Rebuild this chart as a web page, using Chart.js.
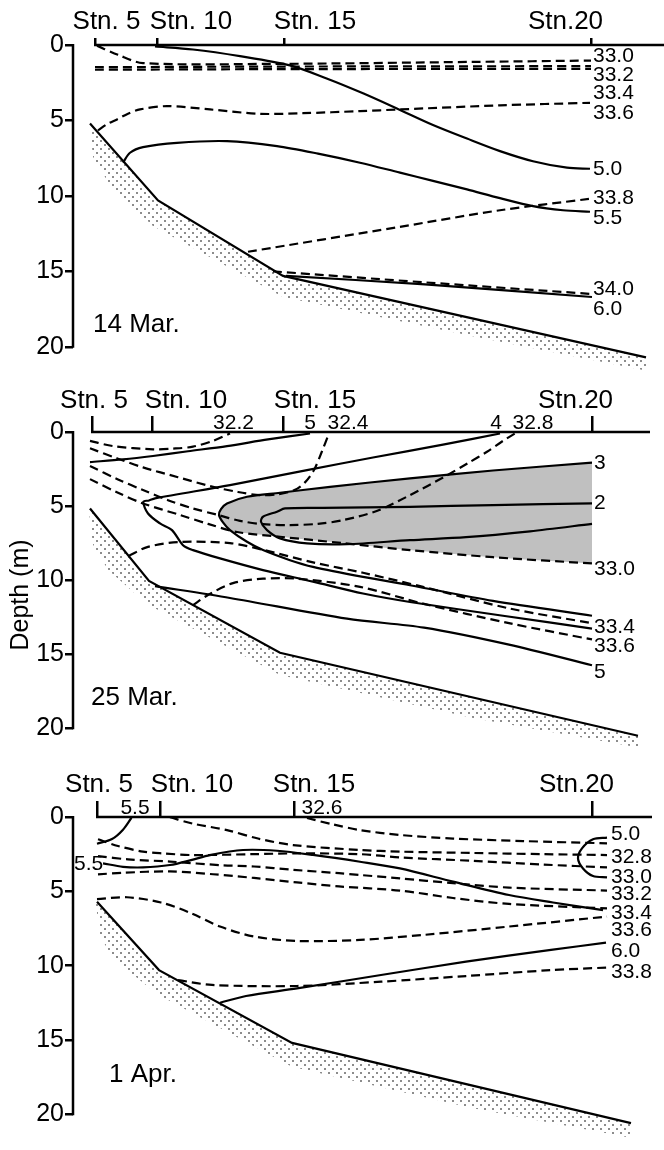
<!DOCTYPE html>
<html>
<head>
<meta charset="utf-8">
<script src="https://cdn.jsdelivr.net/npm/chart.js@4.4.1/dist/chart.umd.min.js"></script>
<style>
html, body { margin: 0; padding: 0; background: #fff; }
#wrap { position: relative; width: 664px; height: 1150px; }
canvas { position: absolute; left: 0; }
</style>
</head>
<body>
<div id="wrap">
  <canvas id="p1" width="664" height="377" style="top:0px"></canvas>
  <canvas id="p2" width="664" height="378" style="top:380px"></canvas>
  <canvas id="p3" width="664" height="384" style="top:760px"></canvas>
</div>
<script>
// x = distance along section (arbitrary units), y = depth (m)
const depthTicks = [0, 5, 10, 15, 20];
const stationNames = ['Stn. 5', 'Stn. 10', 'Stn. 15', 'Stn.20'];

// ---- 14 Mar.
const mar14Stations = [2.2, 8.4, 21.1, 51.8];
const mar14Bottom = [[1.7, 5.2], [8.5, 10.3], [21.0, 15.3], [57.3, 20.7]];
const mar14Stipple = [[1.7, 5.5], [2.0, 7.4], [3.7, 9.3], [8.0, 12.0], [21.0, 16.7], [40, 19.3], [57.5, 21.6]];
const mar14T50 = [[8.2, 0.1], [12, 0.3], [16.7, 0.74], [21.7, 1.35], [25.3, 2.2], [29, 3.2], [32.7, 4.3], [36, 5.3], [39.4, 6.2], [42.7, 7.03], [46, 7.7], [49.4, 8.13], [51.7, 8.2]];
const mar14T55 = [[5.0, 7.8], [5.7, 7.14], [7.0, 6.77], [10.4, 6.48], [15.4, 6.37], [20.4, 6.7], [24.5, 7.2], [28.7, 7.8], [32.7, 8.46], [36, 9.0], [39.4, 9.57], [42.7, 10.15], [46, 10.68], [49, 10.95], [51.7, 11.05]];
const mar14T60 = [[21.3, 15.3], [35.2, 15.86], [51.9, 16.7]];
const mar14S330 = [[2.4, 0.05], [4.5, 0.65], [7.0, 1.2], [20, 1.25], [40, 1.12], [51.8, 1.03]];
const mar14S332 = [[2.2, 1.47], [20, 1.43], [51.8, 1.4]];
const mar14S334 = [[2.2, 1.64], [20, 1.6], [51.8, 1.58]];
const mar14S336 = [[2.5, 5.66], [3.4, 5.25], [4.4, 4.93], [5.5, 4.55], [6.7, 4.27], [9.4, 4.05], [13.7, 4.27], [18.7, 4.56], [23, 4.52], [28.7, 4.38], [32.7, 4.27], [42.7, 4.0], [51.7, 3.83]];
const mar14S338 = [[17.5, 13.7], [32.7, 12.05], [42.7, 10.95], [51.7, 10.19]];
const mar14S340 = [[20.0, 15.0], [35.2, 15.73], [51.9, 16.5]];
const mar14Labels = ['33.0', '33.2', '33.4', '33.6', '5.0', '33.8', '5.5', '34.0', '6.0'];
const mar14LabelDepth = [0.74, 2.02, 3.17, 4.49, 8.24, 10.12, 11.51, 16.15, 17.5];

// ---- 25 Mar.
const mar25Stations = [1.9, 7.9, 21.0, 51.9];
const mar25Bottom = [[1.7, 5.16], [7.6, 10.05], [20.7, 14.9], [56.5, 20.5]];
const mar25Stipple = [[1.6, 5.4], [2.0, 7.6], [3.5, 9.3], [7.4, 11.6], [20.7, 16.4], [40, 19.3], [56.7, 21.3]];
const mar25T2 = [[51.9, 4.82], [42, 4.93], [33.7, 5.05], [25, 5.12], [21.2, 5.16], [20.4, 5.38], [19.0, 5.72], [18.8, 6.06], [19.4, 6.62], [20.7, 7.18], [23.4, 7.52], [27.4, 7.57], [33.7, 7.3], [39.3, 7.1], [45.7, 6.7], [51.9, 6.2]];
const mar25T3 = [[51.9, 2.07], [42, 2.6], [33.7, 3.13], [25.7, 3.7], [20.7, 4.1], [17.4, 4.37], [15.4, 4.82], [14.8, 5.2], [14.6, 5.6], [15.0, 6.1], [15.7, 6.62], [17.4, 7.41], [19, 7.97], [21.7, 8.65], [24, 9.1], [29, 9.78], [33.7, 10.34], [42, 11.4], [51.9, 12.4]];
const mar25T4 = [[42.7, 0.1], [37, 0.85], [30, 1.72], [23.4, 2.57], [15.7, 3.58], [8.2, 4.48], [7.6, 4.62], [7.03, 4.71], [7.5, 5.5], [8.7, 6.17], [9.9, 6.62], [11, 7.64], [12, 7.97], [14.7, 8.53], [19, 9.32], [24, 10.1], [29, 10.9], [33.7, 11.47], [43, 12.4], [51.9, 13.27]];
const mar25T5a = [[1.7, 2.03], [5, 1.85], [8, 1.62], [11.5, 1.3], [15.4, 0.95], [19.5, 0.5], [23.7, 0.1]];
const mar25T5b = [[8.2, 10.4], [15.7, 11.2], [27.4, 12.6], [35.1, 13.2], [43.6, 14.35], [51.9, 15.74]];
const mar25S322 = [[1.7, 0.6], [4, 0.95], [8, 1.17], [10, 1.12], [12, 0.99], [14, 0.6], [15.7, 0.1]];
const mar25S324 = [[1.7, 1.1], [4.5, 1.8], [7, 2.39], [10.5, 3.05], [13.7, 3.65], [16.5, 4.05], [18.7, 4.26], [20.5, 4.2], [22.2, 3.9], [23.2, 3.4], [24.1, 2.57], [24.9, 1.3], [25.6, 0.1]];
const mar25S328 = [[1.7, 2.3], [4.5, 3.2], [7, 3.92], [9.5, 4.6], [12, 5.16], [14.5, 5.6], [16.7, 6.0], [19, 6.22], [21.7, 6.28], [24.5, 6.2], [27, 5.95], [30.5, 5.3], [33.7, 4.26], [37.2, 3.0], [39.5, 2.1], [41.4, 1.33], [43, 0.6], [44.2, 0.1]];
const mar25S330 = [[1.7, 3.18], [4.5, 4.1], [7, 4.82], [10.7, 5.6], [13.5, 6.2], [16.4, 6.75], [20.7, 7.07], [27, 7.5], [33.7, 7.97], [42, 8.45], [51.9, 8.87]];
const mar25S334 = [[5.6, 8.35], [7.5, 7.75], [10.7, 7.42], [15.7, 7.5], [19, 7.95], [24, 8.8], [29, 9.5], [35, 10.45], [43.6, 11.9], [51.9, 12.9]];
const mar25S336 = [[12.0, 11.68], [13.5, 11.0], [16, 10.2], [19, 9.9], [22.4, 9.9], [28.7, 10.45], [35.1, 11.6], [43.6, 12.9], [51.9, 14.0]];
// cold core (< 3 deg C, above 33.0): 3 contour + 33.0 isohaline
const mar25Shade = mar25T3.slice(0, 11).concat(mar25S330.slice(5));
const mar25Labels = ['3', '2', '33.0', '33.4', '33.6', '5'];
const mar25LabelDepth = [2.1, 4.82, 9.23, 13.2, 14.45, 16.2];
const mar25TopLabels = ['32.2', '5', '32.4', '4', '32.8'];
const mar25TopX = [16.05, 23.7, 27.5, 42.3, 46.0];

// ---- 1 Apr.
const apr1Stations = [2.4, 8.7, 22.1, 51.9];
const apr1Bottom = [[2.4, 5.7], [8.6, 10.3], [21.9, 15.2], [55.8, 20.6]];
const apr1Stipple = [[2.3, 5.9], [2.7, 8.0], [4, 9.5], [8.4, 11.9], [21.9, 16.8], [40, 19.6], [55.9, 21.6]];
const apr1T50 = [[53.4, 1.39], [52.0, 1.5], [50.9, 2.11], [50.5, 2.78], [51.0, 3.46], [52.0, 3.97], [53.4, 4.06]];
const apr1T55a = [[2.4, 1.8], [3.9, 1.48], [5.0, 0.85], [5.85, 0.05]];
const apr1T55b = [[3.0, 3.12], [5, 3.35], [7, 3.39], [9.7, 3.23], [11.8, 2.9], [13.7, 2.56], [17, 2.22], [20.4, 2.27], [24, 2.55], [28.7, 3.01], [32.7, 3.46], [38, 4.35], [43.6, 5.25], [48, 5.75], [53.0, 6.26]];
const apr1T60 = [[14.7, 12.5], [17.3, 12.04], [22.4, 11.53], [30.8, 10.63], [39.3, 9.73], [47.8, 8.94], [53.3, 8.45]];
const apr1S326 = [[23.4, 0.07], [26, 0.5], [28.7, 0.88], [32.7, 1.21], [38, 1.45], [45, 1.62], [53.4, 1.77]];
const apr1S328 = [[9.7, 0.02], [12, 0.45], [15.4, 0.88], [18.5, 1.45], [22, 1.89], [28.7, 2.22], [32.7, 2.33], [40, 2.42], [47, 2.5], [53.4, 2.56]];
const apr1S330 = [[2.5, 1.5], [4.5, 1.95], [7, 2.33], [9, 2.45], [12, 2.56], [18, 2.5], [22.4, 2.45], [28.7, 2.5], [32.7, 2.72], [40, 2.95], [47, 3.2], [53.4, 3.39]];
const apr1S332 = [[2.5, 2.63], [5.5, 2.85], [9.7, 3.0], [15, 3.25], [18.1, 3.33], [22, 3.55], [26.6, 3.78], [28.7, 3.9], [32.7, 4.13], [38, 4.45], [43.6, 4.75], [53.4, 4.95]];
const apr1S334 = [[2.5, 3.86], [5, 3.75], [9.7, 3.66], [14, 3.85], [18.1, 4.1], [22.4, 4.4], [26.6, 4.67], [32.7, 4.95], [38, 5.45], [43.6, 5.85], [53.4, 6.15]];
const apr1S336 = [[2.4, 5.53], [5.4, 5.4], [8.8, 5.75], [11.8, 6.47], [14.7, 7.37], [18.1, 8.04], [22.4, 8.34], [28.7, 8.27], [35.1, 7.93], [43.6, 7.37], [53.4, 6.7]];
const apr1S338 = [[10.5, 10.97], [13.9, 11.3], [22.4, 11.37], [30.8, 11.08], [39.3, 10.7], [47.8, 10.3], [53.4, 10.13]];
const apr1Labels = ['5.0', '32.8', '33.0', '33.2', '33.4', '33.6', '6.0', '33.8'];
const apr1LabelDepth = [1.17, 2.72, 4.02, 5.2, 6.49, 7.61, 9.0, 10.42];
const apr1TopLabels = ['5.5', '32.6'];
const apr1TopX = [6.2, 24.9];

const FONT = '"Liberation Sans", Arial, sans-serif';
Chart.defaults.font.family = FONT;
Chart.defaults.color = '#000';

function dotPattern() {
  const c = document.createElement('canvas');
  c.width = 8; c.height = 8;
  const g = c.getContext('2d');
  g.fillStyle = '#8c8c8c';
  g.fillRect(0, 0, 2, 2);
  g.fillRect(4, 4, 2, 2);
  return g.createPattern(c, 'repeat');
}
const dots = dotPattern();

const pts = a => a.map(([x, y]) => ({x, y}));
function solid(a) {
  return {data: pts(a), borderColor: '#000', borderWidth: 2.2, pointRadius: 0, tension: 0.3, fill: false, order: 0};
}
function dashed(a) { return Object.assign(solid(a), {borderDash: [9, 5]}); }
function bed(a) { return Object.assign(solid(a), {tension: 0}); }
function area(a, bg, order) {
  return {data: pts(a), borderColor: 'rgba(0,0,0,0)', borderWidth: 0, backgroundColor: bg,
          fill: 'shape', pointRadius: 0, tension: 0.3, order: order};
}
function band(top, bottom) {
  const d = area(top.concat(bottom.slice().reverse()), dots, 3);
  d.tension = 0;
  return d;
}

const sectionPlugin = {
  id: 'section',
  afterDraw(chart, args, o) {
    const {ctx, chartArea} = chart;
    const xs = chart.scales.x, ys = chart.scales.y;
    ctx.save();
    ctx.strokeStyle = '#000';
    ctx.lineWidth = 2.5;
    ctx.beginPath();
    ctx.moveTo(chartArea.left, ys.getPixelForValue(0) - 1);
    ctx.lineTo(chartArea.left, ys.getPixelForValue(20) + 1);
    ctx.stroke();
    ctx.beginPath();
    ctx.moveTo(xs.getPixelForValue(o.stations[0]) - 1, chartArea.top);
    ctx.lineTo(xs.getPixelForValue(o.surfaceEnd), chartArea.top);
    ctx.stroke();
    ctx.fillStyle = '#000';
    ctx.font = '26px ' + FONT;
    ctx.textAlign = 'center';
    ctx.textBaseline = 'alphabetic';
    stationNames.forEach((s, i) => {
      ctx.fillText(s, xs.getPixelForValue(o.stations[i]) + o.shift[i], chartArea.top - o.rise);
    });
    for (const n of o.notes) {
      ctx.font = (n.size || 21) + 'px ' + FONT;
      ctx.textAlign = n.align || 'left';
      ctx.textBaseline = n.base || 'middle';
      ctx.fillText(n.t, xs.getPixelForValue(n.x), ys.getPixelForValue(n.y));
    }
    ctx.restore();
  }
};

function sideNotes(labels, depths, x) {
  return labels.map((t, i) => ({t, x, y: depths[i]}));
}
function topNotes(labels, xs, y) {
  return labels.map((t, i) => ({t, x: xs[i], y, align: 'center', base: 'alphabetic'}));
}

function panel(id, p) {
  new Chart(document.getElementById(id), {
    type: 'line',
    data: {datasets: p.datasets},
    options: {
      responsive: false,
      animation: false,
      devicePixelRatio: 1,
      layout: {padding: 0},
      plugins: {
        legend: {display: false},
        tooltip: {enabled: false},
        section: {stations: p.stations, surfaceEnd: p.surfaceEnd, shift: p.shift, rise: p.rise, notes: p.notes}
      },
      scales: {
        x: {
          type: 'linear', position: 'top', min: 0, max: 59.1,
          afterBuildTicks: s => { s.ticks = p.stations.map(v => ({value: v})); },
          afterFit: s => { s.height = p.top; },
          ticks: {display: false},
          grid: {display: true, drawOnChartArea: false, drawTicks: true, tickLength: p.tickLen, color: '#000', lineWidth: 2.5},
          border: {display: false}
        },
        y: {
          type: 'linear', reverse: true, min: 0, max: 22,
          afterBuildTicks: s => { s.ticks = depthTicks.map(v => ({value: v})); },
          afterFit: s => { s.width = 73; s.paddingTop = 0; s.paddingBottom = 0; },
          ticks: {font: {size: 25}, color: '#000', padding: 1},
          grid: {display: true, drawOnChartArea: false, drawTicks: true, tickLength: 8, color: '#000', lineWidth: 2.5},
          border: {display: false},
          title: {display: !!p.title, text: p.title || '', font: {size: 25}, color: '#000', padding: {top: 6, bottom: 0}}
        }
      }
    },
    plugins: [sectionPlugin]
  });
}

panel('p1', {
  top: 45, tickLen: 7, rise: 16, shift: [11.5, 34, 31, -25.5],
  stations: mar14Stations, surfaceEnd: 59.1,
  datasets: [
    bed(mar14Bottom),
    solid(mar14T50), solid(mar14T55), solid(mar14T60),
    dashed(mar14S330), dashed(mar14S332), dashed(mar14S334), dashed(mar14S336), dashed(mar14S338), dashed(mar14S340),
    band(mar14Bottom, mar14Stipple)
  ],
  notes: sideNotes(mar14Labels, mar14LabelDepth, 52.0)
    .concat([{t: '14 Mar.', x: 2.0, y: 19.04, size: 26, base: 'alphabetic'}])
});

panel('p2', {
  top: 52, tickLen: 16, rise: 24, shift: [2, 34, 32, -16.5], title: 'Depth (m)',
  stations: mar25Stations, surfaceEnd: 57.7,
  datasets: [
    bed(mar25Bottom),
    solid(mar25T2), solid(mar25T3), solid(mar25T4), solid(mar25T5a), solid(mar25T5b),
    dashed(mar25S322), dashed(mar25S324), dashed(mar25S328), dashed(mar25S330), dashed(mar25S334), dashed(mar25S336),
    area(mar25Shade, '#c0c0c0', 2),
    band(mar25Bottom, mar25Stipple)
  ],
  notes: sideNotes(mar25Labels, mar25LabelDepth, 52.1)
    .concat(topNotes(mar25TopLabels, mar25TopX, -0.2))
    .concat([{t: '25 Mar.', x: 1.8, y: 18.45, size: 26, base: 'alphabetic'}])
});

panel('p3', {
  top: 57, tickLen: 16, rise: 25, shift: [2, 32, 20, -15.5],
  stations: apr1Stations, surfaceEnd: 57.9,
  datasets: [
    bed(apr1Bottom),
    solid(apr1T50), solid(apr1T55a), solid(apr1T55b), solid(apr1T60),
    dashed(apr1S326), dashed(apr1S328), dashed(apr1S330), dashed(apr1S332), dashed(apr1S334), dashed(apr1S336), dashed(apr1S338),
    band(apr1Bottom, apr1Stipple)
  ],
  notes: sideNotes(apr1Labels, apr1LabelDepth, 53.8)
    .concat(topNotes(apr1TopLabels, apr1TopX, -0.18))
    .concat([{t: '5.5', x: 0.1, y: 3.2},
             {t: '1 Apr.', x: 3.6, y: 17.8, size: 26, base: 'alphabetic'}])
});
</script>
</body>
</html>
